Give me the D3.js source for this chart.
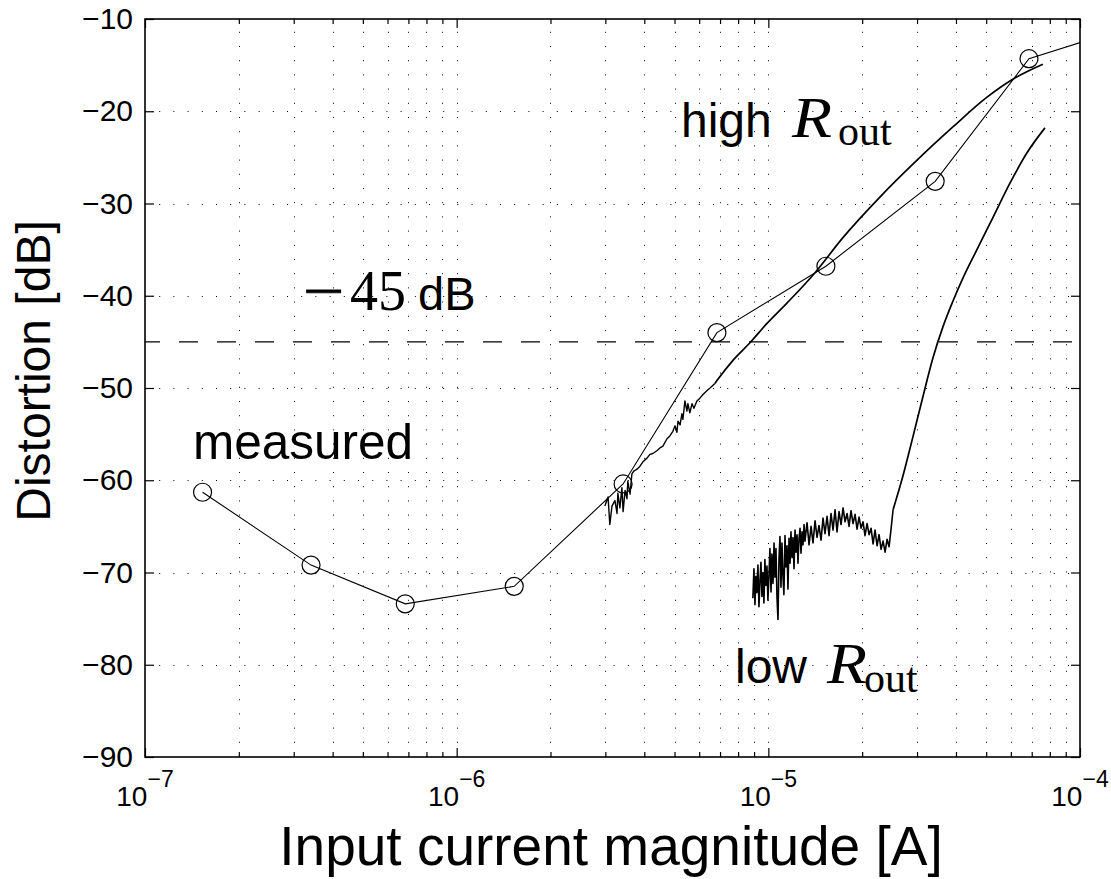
<!DOCTYPE html>
<html>
<head>
<meta charset="utf-8">
<script src="https://cdn.jsdelivr.net/npm/d3@7"></script>
<style>
  body { margin: 0; background: #fff; }
  text { fill: #000; }
</style>
</head>
<body>
<script>
// ---- data ----
const measuredX = [1.53e-7, 3.41e-7, 6.84e-7, 1.53e-6, 3.42e-6, 6.84e-6, 1.53e-5, 3.43e-5, 6.86e-5, 1.53e-4];
const measuredY = [-61.3, -69.2, -73.4, -71.5, -60.4, -44.0, -36.8, -27.6, -14.3, -10.6];

// high R_out simulation: noisy start, then smooth
const highNoiseX = [2.99e-6, 3.06e-6, 3.10e-6, 3.15e-6, 3.22e-6, 3.27e-6, 3.29e-6, 3.34e-6, 3.39e-6, 3.42e-6,
  3.47e-6, 3.52e-6, 3.54e-6, 3.60e-6, 3.65e-6, 3.70e-6, 3.79e-6, 3.87e-6, 3.96e-6, 4.08e-6,
  4.17e-6, 4.26e-6, 4.39e-6, 4.49e-6, 4.59e-6, 4.73e-6, 4.83e-6, 4.94e-6, 5.02e-6, 5.09e-6,
  5.13e-6, 5.21e-6, 5.28e-6, 5.32e-6, 5.40e-6, 5.48e-6, 5.52e-6, 5.60e-6, 5.69e-6, 5.77e-6,
  5.90e-6, 6.03e-6, 6.17e-6, 6.35e-6, 6.50e-6, 6.74e-6];
const highNoiseY = [-62.8, -61.8, -64.8, -62.8, -62.2, -63.6, -61.4, -63.0, -60.8, -63.4,
  -61.1, -62.0, -60.1, -61.5, -59.3, -59.0, -58.8, -58.5, -58.0, -57.6,
  -57.2, -57.1, -56.8, -56.5, -56.3, -55.5, -55.2, -54.7, -54.1, -54.8,
  -53.6, -54.0, -52.8, -53.4, -51.4, -52.5, -51.7, -52.7, -51.7, -52.2,
  -51.4, -51.1, -50.7, -50.3, -50.0, -49.5];
const highSmoothX = [6.84e-6, 7.70e-6, 8.73e-6, 9.90e-6, 1.147e-5, 1.412e-5, 1.735e-5, 2.28e-5, 3.0e-5, 3.91e-5, 5.02e-5, 6.18e-5, 7.60e-5];
const highSmoothY = [-49.2, -47.0, -45.1, -43.0, -40.8, -37.5, -33.7, -29.3, -25.3, -21.7, -18.5, -16.4, -14.9];

// low R_out simulation: noisy floor, then steep rise
const lowNoiseX = [8.92e-6, 8.99e-6, 9.06e-6, 9.12e-6, 9.19e-6, 9.26e-6, 9.33e-6, 9.40e-6, 9.47e-6, 9.54e-6,
  9.61e-6, 9.68e-6, 9.75e-6, 9.82e-6, 9.90e-6, 9.97e-6, 1.005e-5, 1.012e-5, 1.020e-5, 1.027e-5,
  1.035e-5, 1.043e-5, 1.050e-5, 1.058e-5, 1.066e-5, 1.074e-5, 1.082e-5, 1.090e-5, 1.098e-5, 1.106e-5,
  1.114e-5, 1.122e-5, 1.131e-5, 1.139e-5, 1.148e-5, 1.156e-5, 1.165e-5, 1.174e-5, 1.182e-5, 1.191e-5,
  1.200e-5, 1.209e-5, 1.218e-5, 1.227e-5, 1.236e-5, 1.245e-5, 1.254e-5, 1.264e-5, 1.273e-5, 1.283e-5,
  1.292e-5, 1.302e-5, 1.311e-5,
  1.331e-5, 1.351e-5, 1.371e-5, 1.391e-5, 1.412e-5, 1.433e-5, 1.454e-5, 1.476e-5, 1.498e-5, 1.520e-5,
  1.543e-5, 1.566e-5, 1.589e-5, 1.613e-5, 1.637e-5, 1.661e-5, 1.686e-5, 1.711e-5, 1.737e-5, 1.763e-5,
  1.789e-5, 1.815e-5, 1.842e-5, 1.870e-5, 1.898e-5, 1.926e-5, 1.955e-5, 1.984e-5, 2.013e-5, 2.043e-5,
  2.074e-5, 2.105e-5, 2.136e-5, 2.168e-5, 2.200e-5, 2.233e-5, 2.266e-5, 2.300e-5, 2.334e-5, 2.369e-5,
  2.404e-5, 2.440e-5, 2.476e-5, 2.513e-5];
const lowNoiseY = [-72.8, -69.6, -73.5, -70.4, -72.2, -69.2, -73.7, -71.0, -68.9, -72.6,
  -70.0, -73.3, -68.6, -71.4, -69.3, -73.0, -70.2, -67.4, -72.1, -68.0,
  -71.2, -66.8, -70.5, -67.4, -72.7, -75.1, -68.5, -66.1, -71.6, -66.8,
  -70.3, -72.4, -66.0, -69.4, -67.1, -71.8, -66.3, -69.0, -65.6, -68.4,
  -66.2, -69.6, -65.4, -67.8, -65.9, -69.0, -66.4, -65.2, -67.9, -65.6,
  -67.0, -64.8, -66.6,
  -64.6, -67.0, -65.0, -66.8, -64.4, -66.2, -64.9, -66.5, -64.1, -65.8,
  -63.9, -66.0, -63.6, -65.4, -63.2, -65.6, -63.4, -64.8, -63.0, -64.5,
  -63.6, -65.0, -63.3, -64.7, -63.7, -65.3, -64.0, -65.2, -64.5, -66.0,
  -64.7, -65.9, -65.2, -66.9, -65.4, -67.1, -65.9, -67.5, -66.6, -67.8,
  -66.4, -67.2, -65.3, -63.2];
const lowSmoothX = [2.70e-5, 2.91e-5, 3.13e-5, 3.37e-5, 3.63e-5, 3.91e-5, 4.21e-5, 4.67e-5, 5.26e-5, 5.96e-5, 6.76e-5, 7.72e-5];
const lowSmoothY = [-59.6, -55.3, -51.0, -46.8, -43.4, -40.6, -38.1, -35.0, -31.5, -27.8, -24.5, -21.8];

const limitDb = -45;
const yTicks = [-90, -80, -70, -60, -50, -40, -30, -20, -10];
const xMajor = [1e-7, 1e-6, 1e-5, 1e-4];
const xExponents = ["−7", "−6", "−5", "−4"];

// ---- layout ----
const W = 1111, H = 879;
const plot = { left: 145, right: 1080, top: 19, bottom: 757 };
const sans = "'Liberation Sans', Arial, Helvetica, sans-serif";
const serif = "'Liberation Serif', 'Times New Roman', serif";

const x = d3.scaleLog().domain([1e-7, 1e-4]).range([plot.left, plot.right]);
const y = d3.scaleLinear().domain([-90, -10]).range([plot.bottom, plot.top]);

const xMinor = x.ticks().filter(v => !xMajor.some(m => Math.abs(v / m - 1) < 1e-6));
const xGrid = x.ticks().filter(v => v > 1.0001e-7 && v < 0.9999e-4);

const svg = d3.select("body").append("svg")
  .attr("width", W).attr("height", H)
  .style("font-family", sans);

svg.append("defs").append("clipPath").attr("id", "clip")
  .append("rect")
  .attr("x", plot.left).attr("y", plot.top)
  .attr("width", plot.right - plot.left).attr("height", plot.bottom - plot.top);

// dotted grid
const grid = svg.append("g")
  .attr("stroke", "#000")
  .attr("stroke-width", 1)
  .attr("stroke-dasharray", "1 13.2");
grid.selectAll(".gx").data(xGrid).join("line")
  .attr("class", "gx")
  .attr("x1", d => Math.round(x(d)) + 0.5).attr("x2", d => Math.round(x(d)) + 0.5)
  .attr("y1", plot.bottom).attr("y2", plot.top);
grid.selectAll(".gy").data(yTicks.slice(1, -1)).join("line")
  .attr("class", "gy")
  .attr("x1", plot.left).attr("x2", plot.right)
  .attr("y1", d => Math.round(y(d)) + 0.5).attr("y2", d => Math.round(y(d)) + 0.5);

// -45 dB dashed limit
svg.append("line")
  .attr("x1", plot.left).attr("x2", plot.right)
  .attr("y1", y(limitDb)).attr("y2", y(limitDb))
  .attr("stroke", "#000").attr("stroke-width", 1.4)
  .attr("stroke-dasharray", "19 19").attr("stroke-dashoffset", 4);

// data
const lines = svg.append("g").attr("clip-path", "url(#clip)").attr("fill", "none").attr("stroke", "#000");
const zip = (xs, ys) => xs.map((v, i) => [v, ys[i]]);
const lineLin = d3.line().x(d => x(d[0])).y(d => y(d[1]));
const lineSmooth = d3.line().x(d => x(d[0])).y(d => y(d[1])).curve(d3.curveMonotoneX);

const highNoise = zip(highNoiseX, highNoiseY);
const lowNoise = zip(lowNoiseX, lowNoiseY);

lines.append("path").attr("d", lineLin(highNoise)).attr("stroke-width", 1.4).attr("stroke-linejoin", "round");
lines.append("path").attr("d", lineSmooth([highNoise[highNoise.length - 1], ...zip(highSmoothX, highSmoothY)])).attr("stroke-width", 1.7);
lines.append("path").attr("d", lineLin(lowNoise)).attr("stroke-width", 1.6).attr("stroke-linejoin", "round");
lines.append("path").attr("d", lineSmooth([lowNoise[lowNoise.length - 1], ...zip(lowSmoothX, lowSmoothY)])).attr("stroke-width", 1.7);

const measured = zip(measuredX, measuredY);
lines.append("path").attr("d", lineLin(measured)).attr("stroke-width", 1.1);
lines.selectAll("circle").data(measured).join("circle")
  .attr("cx", d => x(d[0])).attr("cy", d => y(d[1])).attr("r", 9)
  .attr("stroke-width", 1.2);

// axes: inward ticks on all four sides
const styleAxis = g => { g.select(".domain").remove(); g.selectAll("line").attr("stroke", "#000").attr("stroke-width", 1.2); };
svg.append("g").attr("transform", `translate(${plot.left},0)`)
  .call(d3.axisLeft(y).tickValues(yTicks).tickSize(-9).tickPadding(12))
  .call(styleAxis)
  .call(g => g.selectAll("text").style("font-size", "30px").style("font-family", sans).attr("fill", "#000"));
svg.append("g").attr("transform", `translate(${plot.right},0)`)
  .call(d3.axisRight(y).tickValues(yTicks).tickSize(-9).tickFormat(""))
  .call(styleAxis);
svg.append("g").attr("transform", `translate(0,${plot.bottom})`)
  .call(d3.axisBottom(x).tickValues(xMajor).tickSize(-9).tickFormat(""))
  .call(styleAxis);
svg.append("g").attr("transform", `translate(0,${plot.bottom})`)
  .call(d3.axisBottom(x).tickValues(xMinor).tickSize(-5).tickFormat(""))
  .call(styleAxis);
svg.append("g").attr("transform", `translate(0,${plot.top})`)
  .call(d3.axisBottom(x).tickValues(xMajor).tickSize(9).tickFormat(""))
  .call(styleAxis);
svg.append("g").attr("transform", `translate(0,${plot.top})`)
  .call(d3.axisBottom(x).tickValues(xMinor).tickSize(5).tickFormat(""))
  .call(styleAxis);

svg.append("rect")
  .attr("x", plot.left).attr("y", plot.top)
  .attr("width", plot.right - plot.left).attr("height", plot.bottom - plot.top)
  .attr("fill", "none").attr("stroke", "#000").attr("stroke-width", 1.6);

// x tick labels 10^n
const xl = svg.append("g").selectAll("text").data(xMajor).join("text")
  .attr("x", d => x(d)).attr("y", 806)
  .attr("text-anchor", "middle").style("font-size", "28px");
xl.append("tspan").text("10");
xl.append("tspan").text((d, i) => xExponents[i]).attr("dy", -19).style("font-size", "23px");

// axis titles
svg.append("text")
  .attr("x", 611).attr("y", 865).attr("text-anchor", "middle")
  .style("font-size", "55px")
  .text("Input current magnitude [A]");
svg.append("text")
  .attr("transform", "translate(50,371) rotate(-90)").attr("text-anchor", "middle")
  .style("font-size", "48px")
  .text("Distortion [dB]");

// annotations
svg.append("text").attr("x", 193).attr("y", 459).style("font-size", "49.5px").text("measured");

svg.append("text").attr("x", 681).attr("y", 137).style("font-size", "48px").text("high");
svg.append("text").attr("transform", "translate(792,137) scale(1.15,1)")
  .style("font-family", serif).style("font-style", "italic").style("font-size", "57px").text("R");
svg.append("text").attr("x", 838).attr("y", 145)
  .style("font-family", serif).style("font-size", "42px").text("out");

svg.append("text").attr("x", 735).attr("y", 683).style("font-size", "48px").text("low");
svg.append("text").attr("transform", "translate(827,683) scale(1.15,1)")
  .style("font-family", serif).style("font-style", "italic").style("font-size", "57px").text("R");
svg.append("text").attr("x", 864).attr("y", 692)
  .style("font-family", serif).style("font-size", "42px").text("out");

svg.append("text").attr("transform", "translate(303,310) scale(1.3,1)")
  .style("font-family", serif).style("font-size", "56px")
  .attr("stroke", "#000").attr("stroke-width", 0.8).text("−");
svg.append("text").attr("x", 350).attr("y", 310)
  .style("font-family", serif).style("font-size", "56px").text("45");
svg.append("text").attr("x", 418).attr("y", 310)
  .style("font-size", "47px").text("dB");
</script>
</body>
</html>
